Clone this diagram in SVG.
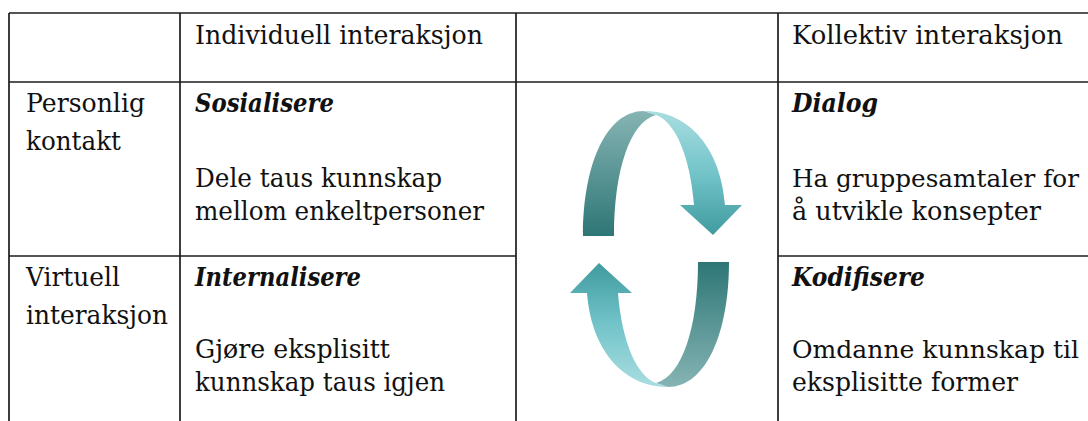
<svg xmlns="http://www.w3.org/2000/svg" width="1088" height="421" viewBox="0 0 1088 421">
<style>
  .grid line { stroke: #1c1c1c; stroke-width: 1.7; }
  .txt text { font-family: 'DejaVu Serif', 'Liberation Serif', serif; font-size: 26.5px; fill: #111; }
  .txt .t { font-weight: bold; font-style: italic; }
  .txt .n { font-size: 25px; }
</style>
<defs>
  <linearGradient id="gDark" x1="0" y1="111" x2="0" y2="236" gradientUnits="userSpaceOnUse">
    <stop offset="0" stop-color="#86b4b4"/>
    <stop offset="1" stop-color="#2e7676"/>
  </linearGradient>
  <linearGradient id="gLight" x1="0" y1="111" x2="0" y2="236" gradientUnits="userSpaceOnUse">
    <stop offset="0" stop-color="#a9dde0"/>
    <stop offset="0.5" stop-color="#72c4c9"/>
    <stop offset="1" stop-color="#3f9a9e"/>
  </linearGradient>
  <g id="arrow">
    <path d="M583,236 C583,165 606,111 644,111 L656,115 C630,122 614,170 614,236 Z" fill="url(#gDark)"/>
    <path d="M644,111 C690,111 721,150 725,205 L742,205 L713,235 L680,205 L694,205 C690,155 675,122 656,115 Z" fill="url(#gLight)"/>
  </g>
</defs>
<rect width="1088" height="421" fill="#ffffff"/>
<g id="connectors">
  <use href="#arrow"/>
  <use href="#arrow" transform="rotate(180 656 249)"/>
</g>
<g id="table-grid" class="grid">
  <line x1="9" y1="13" x2="1088" y2="13"/>
  <line x1="9" y1="82" x2="1088" y2="82"/>
  <line x1="9" y1="256" x2="516" y2="256"/>
  <line x1="778" y1="256" x2="1088" y2="256"/>
  <line x1="9" y1="13" x2="9" y2="421"/>
  <line x1="180" y1="13" x2="180" y2="421"/>
  <line x1="516" y1="13" x2="516" y2="421"/>
  <line x1="778" y1="13" x2="778" y2="421"/>
</g>
<g class="txt">
<g id="header-individuell"><text x="195" y="44" textLength="288" lengthAdjust="spacingAndGlyphs">Individuell interaksjon</text></g>
<g id="header-kollektiv"><text x="792" y="44" textLength="271" lengthAdjust="spacingAndGlyphs">Kollektiv interaksjon</text></g>
<g id="row-personlig"><text x="26" y="112" textLength="119" lengthAdjust="spacingAndGlyphs">Personlig</text><text x="26" y="150" textLength="95" lengthAdjust="spacingAndGlyphs">kontakt</text></g>
<g id="row-virtuell"><text x="26" y="286" textLength="94" lengthAdjust="spacingAndGlyphs">Virtuell</text><text x="26" y="324" textLength="142" lengthAdjust="spacingAndGlyphs">interaksjon</text></g>
<g id="cell-sosialisere">
  <text class="t" x="195" y="112" textLength="139" lengthAdjust="spacingAndGlyphs">Sosialisere</text>
  <text x="195" y="187" textLength="247" lengthAdjust="spacingAndGlyphs">Dele taus kunnskap</text>
  <text x="195" y="220" textLength="289" lengthAdjust="spacingAndGlyphs">mellom enkeltpersoner</text>
</g>
<g id="cell-dialog">
  <text class="t" x="792" y="112" textLength="86" lengthAdjust="spacingAndGlyphs">Dialog</text>
  <text class="n" x="792" y="187" textLength="287" lengthAdjust="spacingAndGlyphs">Ha gruppesamtaler for</text>
  <text x="792" y="220" textLength="249" lengthAdjust="spacingAndGlyphs">å utvikle konsepter</text>
</g>
<g id="cell-internalisere">
  <text class="t" x="195" y="286" textLength="166" lengthAdjust="spacingAndGlyphs">Internalisere</text>
  <text x="195" y="358" textLength="195" lengthAdjust="spacingAndGlyphs">Gjøre eksplisitt</text>
  <text x="195" y="391" textLength="250" lengthAdjust="spacingAndGlyphs">kunnskap taus igjen</text>
</g>
<g id="cell-kodifisere">
  <text class="t" x="792" y="286" textLength="133" lengthAdjust="spacingAndGlyphs">Kodifisere</text>
  <text class="n" x="792" y="358" textLength="287" lengthAdjust="spacingAndGlyphs">Omdanne kunnskap til</text>
  <text x="792" y="391" textLength="226" lengthAdjust="spacingAndGlyphs">eksplisitte former</text>
</g>
</g>
</svg>
